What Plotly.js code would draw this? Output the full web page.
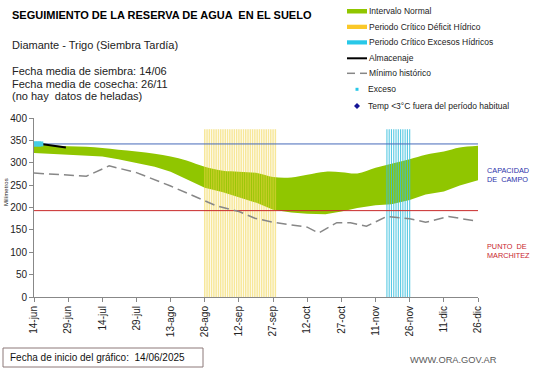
<!DOCTYPE html>
<html><head><meta charset="utf-8">
<script src="https://cdn.plot.ly/plotly-3.0.1.min.js"></script>
<style>html,body{margin:0;padding:0;background:#fff}#chart{width:541px;height:368px}</style>
</head><body><div id="chart"></div>
<script>
// ---- data ----
const bandDates = ['2025-06-14','2025-06-21','2025-06-29','2025-07-07','2025-07-14','2025-07-21','2025-07-29','2025-08-06','2025-08-13','2025-08-20','2025-08-28','2025-09-05','2025-09-12','2025-09-20','2025-09-27','2025-10-05','2025-10-12','2025-10-20','2025-10-27','2025-11-03','2025-11-11','2025-11-18','2025-11-26','2025-12-03','2025-12-11','2025-12-18','2025-12-26'];
const bandUpper = [340,339,337,336,333,329,325,320,314,305,291,282,280,277,268,267,273,280,279,276,289,298,308,318,325,334,338];
const bandLower = [322,320,318,316,314,308,300,291,280,264,244,234,223,210,195,189,186,185,191,199,205,207,217,229,236,249,261];

const minDates = ['2025-06-14','2025-06-29','2025-07-07','2025-07-17','2025-07-29','2025-08-13','2025-08-20','2025-08-28','2025-09-02','2025-09-12','2025-09-19','2025-09-27','2025-10-12','2025-10-17','2025-10-25','2025-10-31','2025-11-07','2025-11-16','2025-11-26','2025-12-03','2025-12-13','2025-12-26'];
const minValues = [277,273,270,293,278,248,232,214,204,191,176,167,156,143,166,166,158,180,175,167,180,169];

const storageDates = ['2025-06-14','2025-06-17','2025-06-21','2025-06-25','2025-06-28'];
const storageValues = [344,342,339,336,334];

const excessDates = ['2025-06-14','2025-06-15','2025-06-16','2025-06-17'];
const excessValues = [342,342,342,342];

const deficitDays = ['2025-08-28','2025-08-29','2025-08-30','2025-08-31','2025-09-01','2025-09-02','2025-09-03','2025-09-04','2025-09-05','2025-09-06','2025-09-07','2025-09-08','2025-09-09','2025-09-10','2025-09-11','2025-09-12','2025-09-13','2025-09-14','2025-09-15','2025-09-16','2025-09-17','2025-09-18','2025-09-19','2025-09-20','2025-09-21','2025-09-22','2025-09-23','2025-09-24','2025-09-25','2025-09-26','2025-09-27','2025-09-28'];
const excessPeriodDays = ['2025-11-16','2025-11-17','2025-11-18','2025-11-19','2025-11-20','2025-11-21','2025-11-22','2025-11-23','2025-11-24','2025-11-25','2025-11-26'];
const periodTop = 375;

const fieldCapacity = 342;
const wiltingPoint = 193;

const axisStart = '2025-06-14', axisEnd = '2025-12-26';
const tickDates = ['2025-06-14','2025-06-29','2025-07-14','2025-07-29','2025-08-13','2025-08-28','2025-09-12','2025-09-27','2025-10-12','2025-10-27','2025-11-11','2025-11-26','2025-12-11','2025-12-26'];
const tickLabels = ['14-jun','29-jun','14-jul','29-jul','13-ago','28-ago','12-sep','27-sep','12-oct','27-oct','11-nov','26-nov','11-dic','26-dic'];
const yTicks = [0,50,100,150,200,250,300,350,400];

// ---- helpers ----
function vlines(days, top){ const x=[],y=[]; days.forEach(d=>{x.push(d,d,null);y.push(0,top,null);}); return {x,y}; }
const L=34,R=478,T=118,B=297;
const px = v => (v-L)/(R-L);
const py = v => (B-v)/(B-T);
const FONT = 'Arial, "Liberation Sans", sans-serif';

const def = vlines(deficitDays, periodTop);
const exc = vlines(excessPeriodDays, periodTop);

const traces = [
  {x:bandDates, y:bandLower, type:'scatter', mode:'lines', line:{width:0,color:'rgba(0,0,0,0)'}, hoverinfo:'skip', showlegend:false},
  {x:bandDates, y:bandUpper, type:'scatter', mode:'lines', fill:'tonexty', fillcolor:'rgb(144,198,0)', line:{width:0,color:'rgb(144,198,0)',shape:'spline'}, name:'Intervalo Normal', showlegend:false},
  {x:def.x, y:def.y, type:'scatter', mode:'lines', line:{width:1.5,color:'rgba(240,212,70,0.55)'}, name:'Periodo Crítico Déficit Hídrico', showlegend:false},
  {x:exc.x, y:exc.y, type:'scatter', mode:'lines', line:{width:1.1,color:'rgba(60,192,222,0.85)'}, name:'Periodo Crítico Excesos Hídricos', showlegend:false},
  {x:[axisStart,axisEnd], y:[fieldCapacity,fieldCapacity], type:'scatter', mode:'lines', line:{width:1,color:'rgb(70,105,185)'}, showlegend:false},
  {x:[axisStart,axisEnd], y:[wiltingPoint,wiltingPoint], type:'scatter', mode:'lines', line:{width:1,color:'rgb(200,40,40)'}, showlegend:false},
  {x:minDates, y:minValues, type:'scatter', mode:'lines', line:{width:1.5,color:'rgb(135,135,135)',dash:'10px,5px'}, name:'Mínimo histórico', showlegend:false},
  {x:storageDates, y:storageValues, type:'scatter', mode:'lines', line:{width:2,color:'#000'}, name:'Almacenaje', showlegend:false},
  {x:excessDates, y:excessValues, type:'scatter', mode:'markers', marker:{symbol:'square',size:5,color:'rgb(70,205,230)'}, name:'Exceso', showlegend:false}
];

const ann = [];
function txt(text,x,y,size,color,opts){ ann.push(Object.assign({text:text,xref:'paper',yref:'paper',x:px(x),y:py(y),xanchor:'left',yanchor:'middle',align:'left',showarrow:false,font:{family:FONT,size:size,color:color||'#111'}},opts||{})); }
txt('<b>SEGUIMIENTO DE LA RESERVA DE AGUA  EN EL SUELO</b>',10,15,11,'#000');
txt('Diamante - Trigo (Siembra Tardía)',10,45,11,'#222');
txt('Fecha media de siembra: 14/06',10,71,11,'#222');
txt('Fecha media de cosecha: 26/11',10,83.5,11,'#222');
txt('(no hay  datos de heladas)',10,96,11,'#222');
// legend texts
const legY=[11,26.7,42.3,58.3,73.3,89.3,106];
const legT=['Intervalo Normal','Periodo Crítico Déficit Hídrico','Periodo Crítico Excesos Hídricos','Almacenaje','Mínimo histórico','Exceso','Temp <3°C fuera del período habitual'];
legT.forEach((t,i)=>txt(t, i>=5?366:367, legY[i], 8.5, '#222'));
// right labels
txt('CAPACIDAD<br>DE  CAMPO',485,174.5,7.3,'rgb(45,50,170)');
txt('PUNTO  DE<br>MARCHITEZ',485,251,7.3,'rgb(200,30,45)');
// y title
ann.push({text:'Milímetros',xref:'paper',yref:'paper',x:px(6),y:py(192),xanchor:'center',yanchor:'middle',textangle:-90,showarrow:false,font:{family:FONT,size:6,color:'#222'}});
// footer
txt('Fecha de inicio del gráfico:  14/06/2025',8,357.5,10,'#111');
txt('WWW.ORA.GOV.AR',408,360,9.3,'#5a5a5a');

const shapes = [];
function rect(x0,y0,x1,y1,fill,line){ shapes.push({type:'rect',xref:'paper',yref:'paper',x0:px(x0),x1:px(x1),y0:py(y0),y1:py(y1),fillcolor:fill,line:line||{width:0}}); }
function seg(x0,y0,x1,y1,color,w){ shapes.push({type:'line',xref:'paper',yref:'paper',x0:px(x0),x1:px(x1),y0:py(y0),y1:py(y1),line:{color:color,width:w}}); }
rect(347,9,367,13.5,'rgb(144,198,0)');
rect(347,24.7,367,29,'rgb(250,200,40)');
rect(347,40.3,367,44.5,'rgb(40,200,232)');
seg(347,58.3,367,58.3,'#000',2);
seg(347,73.3,355,73.3,'rgb(135,135,135)',1.5);
seg(360,73.3,367,73.3,'rgb(135,135,135)',1.5);
rect(355.5,87.8,358.5,90.8,'rgb(40,200,232)');
shapes.push({type:'path',xref:'paper',yref:'paper',path:`M ${px(357)} ${py(103)} L ${px(360)} ${py(106)} L ${px(357)} ${py(109)} L ${px(354)} ${py(106)} Z`,fillcolor:'rgb(20,20,150)',line:{width:0}});
rect(3,348,203,367,'rgba(0,0,0,0)',{color:'rgb(140,120,120)',width:1});

const layout = {
  width:541, height:368,
  margin:{l:L,r:541-R,t:T,b:368-B,pad:0},
  paper_bgcolor:'#fff', plot_bgcolor:'#fff',
  showlegend:false,
  font:{family:FONT,size:10,color:'#222'},
  xaxis:{type:'date',range:[axisStart,axisEnd],tickmode:'array',tickvals:tickDates,ticktext:tickLabels,tickangle:-90,
         showgrid:false,zeroline:false,showline:true,linecolor:'#888',linewidth:1,ticks:'outside',ticklen:4,tickcolor:'#888',
         tickfont:{family:FONT,size:10,color:'#222'}},
  yaxis:{range:[0,400],tickmode:'array',tickvals:yTicks,showgrid:false,zeroline:false,showline:true,linecolor:'#888',linewidth:1,
         ticks:'outside',ticklen:4,tickcolor:'#888',tickfont:{family:FONT,size:10,color:'#222'}},
  annotations:ann, shapes:shapes
};
Plotly.newPlot('chart',traces,layout,{displayModeBar:false,staticPlot:true});
</script></body></html>
